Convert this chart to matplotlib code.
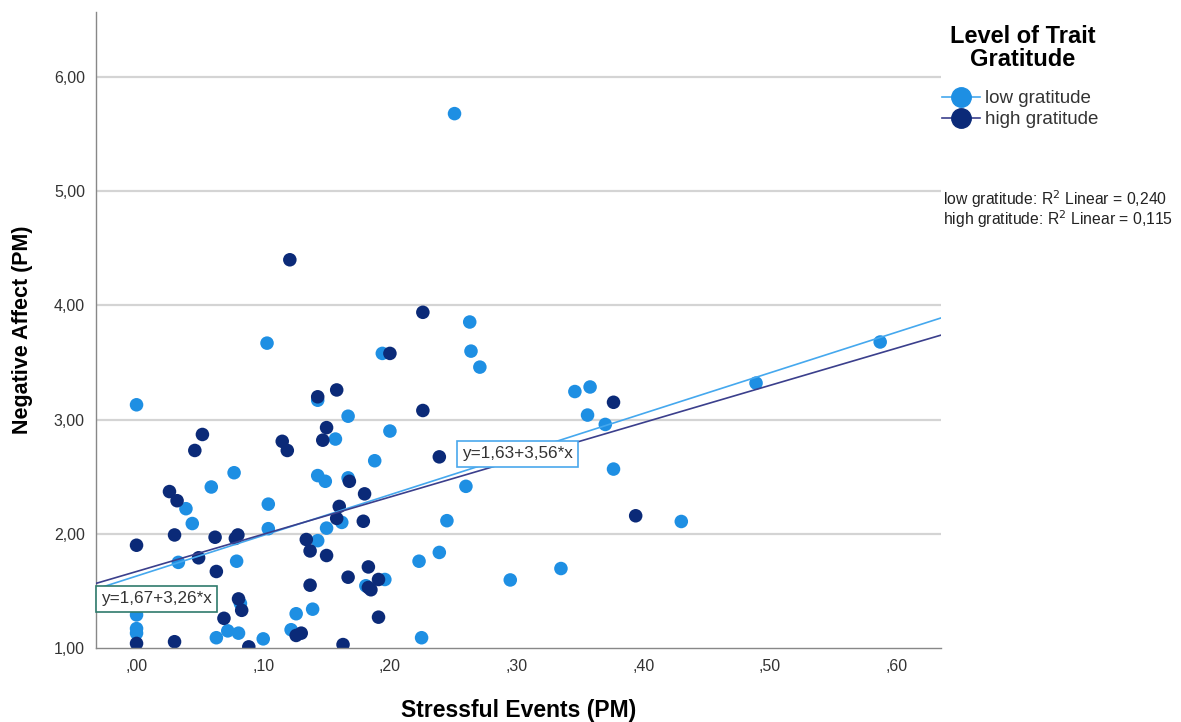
import numpy as np
import matplotlib
matplotlib.use("Agg")
import matplotlib.pyplot as plt
from matplotlib.lines import Line2D

plt.rcParams['font.family'] = ['Liberation Sans', 'DejaVu Sans']

# low gratitude group (light blue)
low_x = [0.000, 0.103, 0.194, 0.143, 0.167, 0.200, 0.157, 0.188, 0.077, 0.059,
         0.143, 0.149, 0.167, 0.039, 0.044, 0.104, 0.104, 0.162, 0.150, 0.143,
         0.033, 0.079, 0.181, 0.196, 0.082, 0.000, 0.000, 0.000, 0.063, 0.072,
         0.0805, 0.100, 0.126, 0.139, 0.122, 0.223, 0.225, 0.251, 0.263, 0.264,
         0.271, 0.346, 0.358, 0.356, 0.370, 0.260, 0.3765, 0.430, 0.245, 0.239,
         0.295, 0.335, 0.489, 0.587]
low_y = [3.13, 3.67, 3.58, 3.17, 3.03, 2.90, 2.83, 2.64, 2.535, 2.41,
         2.51, 2.46, 2.49, 2.22, 2.09, 2.26, 2.045, 2.10, 2.05, 1.94,
         1.75, 1.76, 1.545, 1.60, 1.39, 1.29, 1.17, 1.13, 1.09, 1.15,
         1.13, 1.08, 1.30, 1.34, 1.16, 1.76, 1.09, 5.68, 3.855, 3.60,
         3.46, 3.246, 3.286, 3.04, 2.958, 2.416, 2.567, 2.108, 2.115, 1.837,
         1.596, 1.696, 3.32, 3.68]

# high gratitude group (dark blue)
high_x = [0.200, 0.143, 0.158, 0.150, 0.147, 0.115, 0.119, 0.052, 0.046, 0.168,
          0.180, 0.026, 0.032, 0.160, 0.158, 0.179, 0.000, 0.030, 0.062, 0.078,
          0.080, 0.134, 0.137, 0.150, 0.049, 0.063, 0.183, 0.167, 0.137, 0.183,
          0.185, 0.191, 0.0805, 0.083, 0.000, 0.030, 0.069, 0.0886, 0.126, 0.130,
          0.191, 0.163, 0.121, 0.226, 0.226, 0.239, 0.3765, 0.394]
high_y = [3.58, 3.20, 3.26, 2.93, 2.82, 2.81, 2.73, 2.87, 2.73, 2.46,
          2.35, 2.37, 2.29, 2.24, 2.135, 2.11, 1.90, 1.99, 1.97, 1.96,
          1.99, 1.95, 1.85, 1.81, 1.79, 1.67, 1.71, 1.62, 1.55, 1.53,
          1.51, 1.60, 1.43, 1.33, 1.04, 1.055, 1.26, 1.01, 1.11, 1.13,
          1.27, 1.03, 4.40, 3.94, 3.08, 2.674, 3.152, 2.158]

# fit lines (intercept, slope) as printed on chart
low_fit = [1.63, 3.56]
high_fit = [1.67, 3.26]
r2_labels = ["low gratitude: R$^2$ Linear = 0,240",
             "high gratitude: R$^2$ Linear = 0,115"]

x_ticks = [0.0, 0.1, 0.2, 0.3, 0.4, 0.5, 0.6]
x_ticklabels = [",00", ",10", ",20", ",30", ",40", ",50", ",60"]
y_ticks = [1, 2, 3, 4, 5, 6]
y_ticklabels = ["1,00", "2,00", "3,00", "4,00", "5,00", "6,00"]

c_low = "#1e8fe3"
c_high = "#0b2a78"
c_low_line = "#45a8ee"
c_high_line = "#3b3f8c"

fig = plt.figure(figsize=(11.81, 7.22), dpi=100)
ax = fig.add_axes([96 / 1181, 1 - 648 / 722, (941 - 96) / 1181, (648 - 12) / 722])

xlim = (-0.032, 0.635)
ax.set_xlim(*xlim)
ax.set_ylim(1.0, 6.57)

for t in y_ticks[1:]:
    ax.axhline(t, color="#d4d4d4", lw=1.6, zorder=0)

ax.scatter(low_x, low_y, s=95, color=c_low, edgecolors="none", zorder=2)
ax.scatter(high_x, high_y, s=95, color=c_high, edgecolors="none", zorder=2)

xx = np.array(xlim)
ax.plot(xx, low_fit[0] + low_fit[1] * xx, color=c_low_line, lw=1.2, zorder=3)
ax.plot(xx, high_fit[0] + high_fit[1] * xx, color=c_high_line, lw=1.2, zorder=3)

ax.text(0.016, 1.43, "y=1,67+3,26*x", ha="center", va="center", fontsize=12.3, color="#333333",
        bbox=dict(boxstyle="square,pad=0.3", fc="white", ec="#2f7a6c", lw=1.2), zorder=4)
ax.text(0.301, 2.70, "y=1,63+3,56*x", ha="center", va="center", fontsize=12.3, color="#333333",
        bbox=dict(boxstyle="square,pad=0.3", fc="white", ec="#4aa8ec", lw=1.2), zorder=4)

for s in ["top", "right"]:
    ax.spines[s].set_visible(False)
for s in ["left", "bottom"]:
    ax.spines[s].set_color("#888888")
    ax.spines[s].set_linewidth(1.0)

ax.set_xticks(x_ticks)
ax.set_xticklabels(x_ticklabels)
ax.set_yticks(y_ticks)
ax.set_yticklabels(y_ticklabels)
ax.tick_params(length=0, labelsize=11.5, labelcolor="#333333", pad=8)

ax.set_xlabel("Stressful Events (PM)", fontsize=16.5, fontweight="bold", labelpad=18)
ax.set_ylabel("Negative Affect (PM)", fontsize=15.5, fontweight="bold", labelpad=15)

# legend title
fig.text(1023 / 1181, 1 - 48 / 722, "Level of Trait\nGratitude", ha="center", va="center",
         fontsize=17, fontweight="bold", linespacing=1.05)

handles = [Line2D([0], [0], color=c_low_line, marker="o", markersize=14, markerfacecolor=c_low,
                  markeredgecolor=c_low, lw=1.2),
           Line2D([0], [0], color=c_high_line, marker="o", markersize=14, markerfacecolor=c_high,
                  markeredgecolor=c_high, lw=1.2)]
leg = fig.legend(handles, ["low gratitude", "high gratitude"], loc="upper left",
                 bbox_to_anchor=(929 / 1181, 1 - 77 / 722), frameon=False, fontsize=13.5,
                 handlelength=2.0, handletextpad=0.3, labelspacing=0.2, borderpad=0.2)
for txt in leg.get_texts():
    txt.set_color("#333333")

fig.text(943 / 1181, 1 - 199 / 722, r2_labels[0], fontsize=11.3, va="center", ha="left", color="#222222")
fig.text(943 / 1181, 1 - 219 / 722, r2_labels[1], fontsize=11.3, va="center", ha="left", color="#222222")

fig.savefig("out.png", dpi=100)
